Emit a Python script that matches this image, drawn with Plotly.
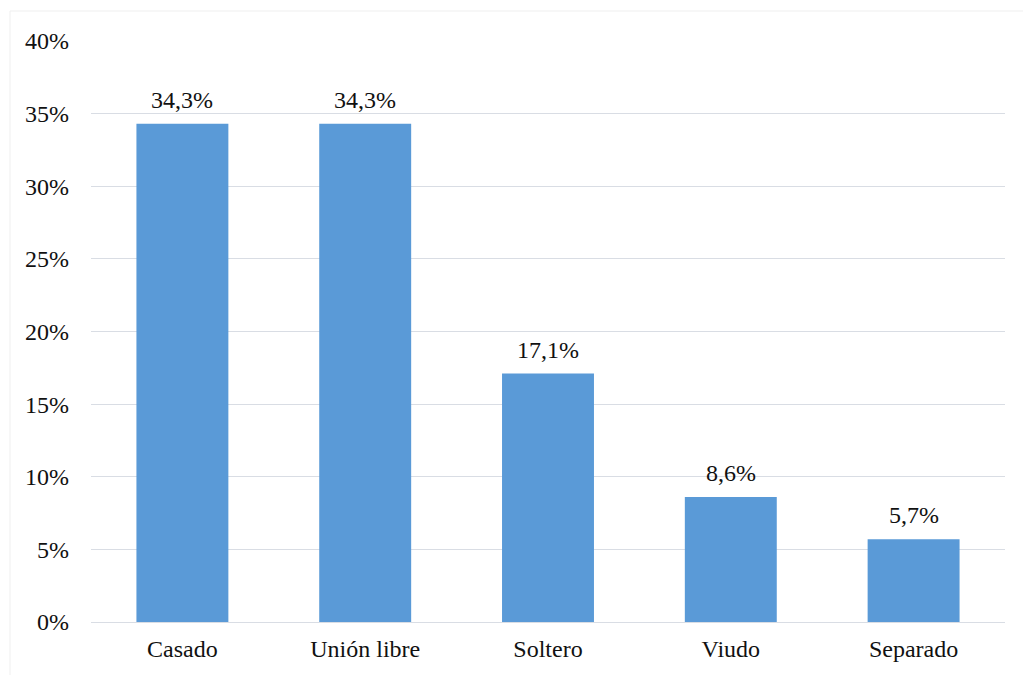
import plotly.graph_objects as go

categories = ["Casado", "Unión libre", "Soltero", "Viudo", "Separado"]
values = [34.3, 34.3, 17.1, 8.6, 5.7]
tick_values = [0, 5, 10, 15, 20, 25, 30, 35, 40]
tick_labels = [f"{v}%" for v in tick_values]

W, H = 1023, 675
ML, MR, MT, MB = 91, 18, 41, 53
PW = W - ML - MR
PH = H - MT - MB

font = dict(family="Liberation Serif, Times New Roman, serif", size=24, color="#111111")

fig = go.Figure(
    go.Bar(
        x=categories,
        y=values,
        marker=dict(color="#5a9ad7", line=dict(width=0)),
        hoverinfo="skip",
    )
)

annotations = [
    dict(
        x=c,
        y=v,
        xref="x",
        yref="y",
        text=f"{v:.1f}%".replace(".", ","),
        showarrow=False,
        yanchor="bottom",
        yshift=9,
        font=font,
    )
    for c, v in zip(categories, values)
]

fig.update_layout(
    width=W,
    height=H,
    margin=dict(l=ML, r=MR, t=MT, b=MB, pad=0),
    paper_bgcolor="white",
    plot_bgcolor="white",
    separators=",.",
    bargap=0.497,
    font=font,
    showlegend=False,
    annotations=annotations,
    xaxis=dict(
        showgrid=False,
        showline=False,
        ticks="",
        tickfont=font,
        ticklabelstandoff=10,
    ),
    yaxis=dict(
        range=[0, 40],
        tickvals=tick_values,
        ticktext=tick_labels,
        showgrid=True,
        gridcolor="#d9dde4",
        gridwidth=1.3,
        zeroline=True,
        zerolinecolor="#d9dde4",
        zerolinewidth=1.3,
        showline=False,
        ticks="",
        tickfont=font,
        ticklabelstandoff=21,
    ),
    shapes=[
        dict(
            type="rect",
            xref="paper",
            yref="paper",
            x0=(10 - ML) / PW,
            x1=(1030 - ML) / PW,
            y0=(MT + PH - 680) / PH,
            y1=(MT + PH - 11) / PH,
            line=dict(color="#efefef", width=1),
            fillcolor="rgba(0,0,0,0)",
            layer="below",
        )
    ],
)

fig.write_html("out.html")
